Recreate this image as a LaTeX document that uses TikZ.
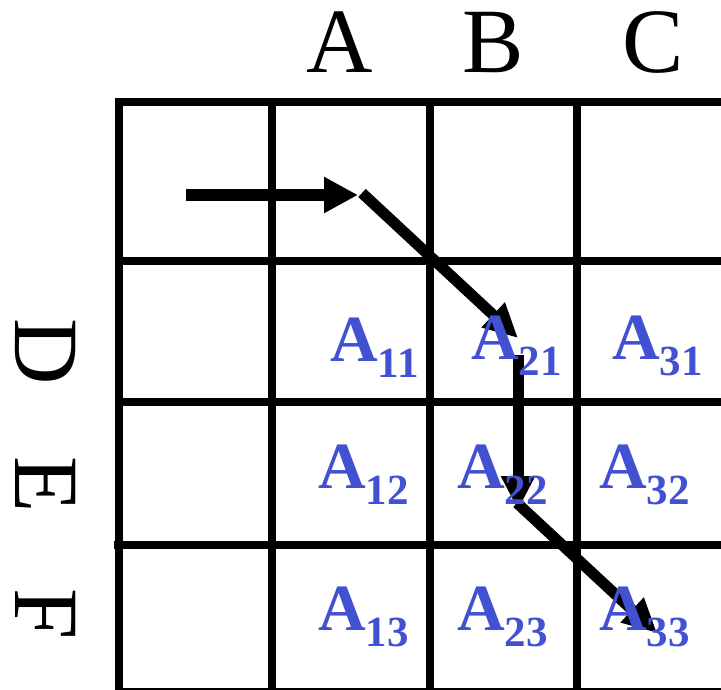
\documentclass[tikz,border=0pt]{standalone}
\usepackage{fontspec}
\setmainfont{Liberation Serif}
\usetikzlibrary{arrows.meta}
\definecolor{cellblue}{RGB}{66,80,210}
\newcommand\cellA[1]{\fontsize{66}{66}\selectfont\bfseries A\raisebox{-16pt}{\fontsize{43}{43}\selectfont #1}}
\begin{document}
\begin{tikzpicture}[x=1pt,y=-1pt,
  gridline/.style={line width=7.5pt,black},
  headlabel/.style={inner sep=0pt,anchor=base,font=\fontsize{92}{92}\selectfont},
  sidelabel/.style={inner sep=0pt,anchor=base,rotate=-90,font=\fontsize{92}{92}\selectfont},
  celltext/.style={inner sep=0pt,anchor=base west,text=cellblue},
  bigarrow/.style={line width=11pt,black,-{Triangle[length=34pt,width=32pt]}},
  firstarrow/.style={line width=12pt,black,-{Triangle[length=34pt,width=34pt]}}]
\useasboundingbox (0,0) rectangle (721,690);
\clip (0,0) rectangle (721,690);
\fill[white] (0,0) rectangle (721,690);
% grid
\foreach \x in {119,272,430,577} \draw[gridline] (\x,102) -- (\x,694);
\foreach \y in {102,261,402,692} \draw[gridline,line cap=rect] (119,\y) -- (730,\y);
\draw[gridline] (114,545) -- (730,545);
% labels
\node[headlabel] (la) at (340,73) {A};
\node[headlabel] (lb) at (493,73) {B};
\node[headlabel] (lc) at (653,73) {C};
\node[sidelabel] (ld) at (16,352) {D};
\node[sidelabel] (le) at (16,485) {E};
\node[sidelabel] (lf) at (16,614) {F};
% path coordinates
\coordinate (p0) at (186,195);
\coordinate (p1) at (358,195);
\coordinate (p2) at (362,193);
\coordinate (p3) at (518,338);
\coordinate (p4) at (518,355);
\coordinate (p5) at (518,510);
\coordinate (p6) at (517,503);
\coordinate (p7) at (657,633);
\draw[firstarrow] (p0) -- (p1);
\draw[bigarrow] (p2) -- (p3);
\draw[bigarrow] (p4) -- (p5);
\draw[bigarrow] (p6) -- (p7);
% cells
\node[celltext] (a11) at (330,361) {\cellA{11}};
\node[celltext] (a21) at (471,359) {\cellA{21}};
\node[celltext] (a31) at (612,359) {\cellA{31}};
\node[celltext] (a12) at (318,488) {\cellA{12}};
\node[celltext] (a22) at (457,488) {\cellA{22}};
\node[celltext] (a32) at (599,488) {\cellA{32}};
\node[celltext] (a13) at (318,630) {\cellA{13}};
\node[celltext] (a23) at (457,630) {\cellA{23}};
\node[celltext] (a33) at (599,630) {\cellA{33}};
\end{tikzpicture}
\end{document}
